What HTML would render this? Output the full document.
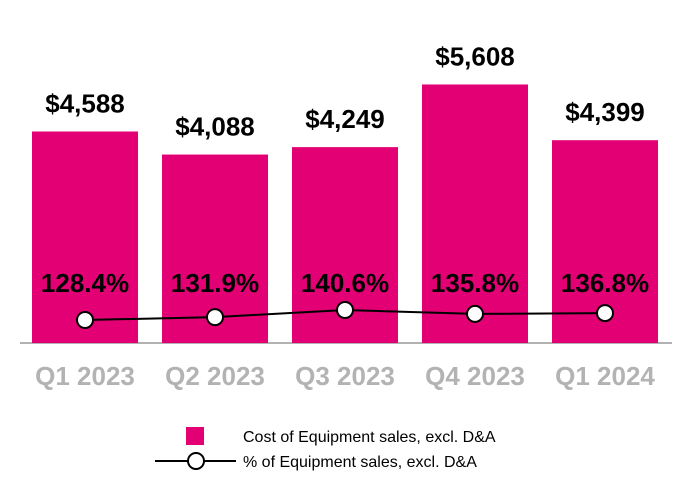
<!DOCTYPE html>
<html><head><meta charset="utf-8"><style>
body{margin:0;background:#fff}
svg{display:block;font-family:"Liberation Sans",Arial,sans-serif}
</style></head><body>
<svg id="c" width="690" height="500">
<line x1="20" y1="343" x2="672" y2="343" stroke="#999" stroke-width="1.5"/>
<g id="bars"></g><g id="line"></g><g id="labels"></g>
<g>
<rect x="186" y="427" width="18" height="18" fill="#e20074"/>
<text x="243" y="442" font-size="16" fill="#000">Cost of Equipment sales, excl. D&amp;A</text>
<line x1="155" y1="461" x2="236" y2="461" stroke="#000" stroke-width="2"/>
<circle cx="196" cy="461" r="8" fill="#fff" stroke="#000" stroke-width="2"/>
<text x="243" y="467" font-size="16" fill="#000">% of Equipment sales, excl. D&amp;A</text>
</g>
</svg>
<script>
const categories=["Q1 2023","Q2 2023","Q3 2023","Q4 2023","Q1 2024"];
const costValues=[4588,4088,4249,5608,4399];
const costLabels=["$4,588","$4,088","$4,249","$5,608","$4,399"];
const pctValues=[128.4,131.9,140.6,135.8,136.8];
const pctLabels=["128.4%","131.9%","140.6%","135.8%","136.8%"];
const NS="http://www.w3.org/2000/svg";
const xc=i=>85+i*130;
const yBar=v=>343-v*0.0461;
const yPct=v=>320-(v-128.4)*0.82;
function mk(t,a,p){const e=document.createElementNS(NS,t);for(const k in a)e.setAttribute(k,a[k]);p.appendChild(e);return e;}
const bars=document.getElementById('bars'),line=document.getElementById('line'),labels=document.getElementById('labels');
categories.forEach((c,i)=>{
 const y=yBar(costValues[i]);
 const r=mk('rect',{x:xc(i)-53,y:y,width:106,height:343-y,fill:'#e20074'},bars);
 
 
 const t=mk('text',{x:xc(i),y:y-19,'text-anchor':'middle','font-size':'26','font-weight':'bold',fill:'#000'},labels);
 t.textContent=costLabels[i];
 
 
 const p=mk('text',{x:xc(i),y:292,'text-anchor':'middle','font-size':'26','font-weight':'bold',fill:'#000'},labels);
 p.textContent=pctLabels[i];
 
 
 const xl=mk('text',{x:xc(i),y:385,'text-anchor':'middle','font-size':'26','font-weight':'bold',fill:'#b3b3b3'},labels);
 xl.textContent=c;
 
 
});
const pl=mk('polyline',{points:pctValues.map((v,i)=>xc(i)+','+yPct(v)).join(' '),fill:'none',stroke:'#000','stroke-width':2},line);


pctValues.forEach((v,i)=>{
 const m=mk('circle',{cx:xc(i),cy:yPct(v),r:8,fill:'#fff',stroke:'#000','stroke-width':2},line);
 
 
});
</script>
</body></html>
